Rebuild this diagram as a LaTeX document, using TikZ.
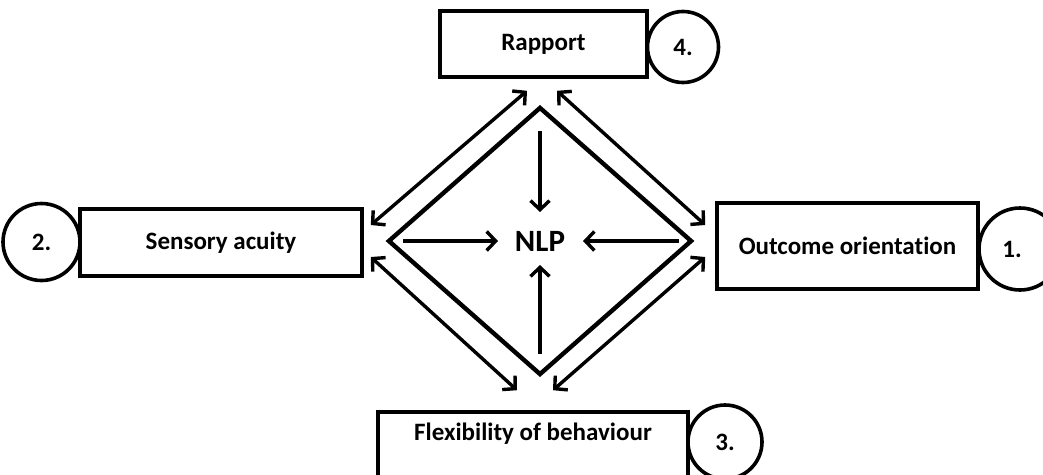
\documentclass[tikz,border=0pt]{standalone}
\usepackage{fontspec}
\setmainfont{Carlito}[Ligatures=NoCommon]
\usetikzlibrary{arrows.meta,shapes.geometric}

\begin{document}
\begin{tikzpicture}[x=1pt,y=-1pt,>={Straight Barb[length=9pt,width=19pt]},
    box/.style={draw,line width=4.4pt,inner sep=0pt,
      font=\bfseries\fontsize{25}{28}\selectfont},
    num/.style={draw,circle,line width=3.6pt,inner sep=0pt,fill=white,
      font=\bfseries\fontsize{25}{28}\selectfont},
    inarrow/.style={->,line width=3.4pt},
    biarrow/.style={<->,line width=3.4pt}]
  \useasboundingbox (0,0) rectangle (1043,474);
  % boxes and their numbers
  \node[box,minimum width=207pt,minimum height=66pt] (rapport) at (543.5,44) {Rapport};
  \node[num,minimum size=71pt] (n4) at (683,47) {4.};
  \node[box,minimum width=282pt,minimum height=67pt] (sensory) at (221,242.5) {Sensory acuity};
  \node[num,minimum size=77pt] (n2) at (41.5,242) {2.};
  \node[box,minimum width=261pt,minimum height=86pt] (outcome) at (847.5,246) {Outcome orientation};
  \node[num,minimum size=82pt] (n1) at (1020,249) {};
  \node[font=\bfseries\fontsize{25}{28}\selectfont] at (1012,249) {1.};
  \node[box,anchor=north,minimum width=310pt,inner ysep=11pt,text depth=60pt] (flex) at (533,410) {Flexibility of behaviour};
  \node[num,minimum size=74pt] (n3) at (725,442) {3.};
  % centre
  \node[draw,diamond,line width=4.4pt,inner sep=0pt,minimum width=304pt,
    minimum height=268pt] (dia) at (540,241) {};
  \node[font=\bfseries\fontsize{31}{35}\selectfont] (nlp) at (540,241) {NLP};
  \draw[inarrow,shorten <=26pt,shorten >=29pt] (dia.north) -- (nlp.center);
  \draw[inarrow,shorten <=23pt,shorten >=24pt] (dia.south) -- (nlp.center);
  \draw[inarrow,shorten <=17pt,shorten >=42pt] (dia.west) -- (nlp.center);
  \draw[inarrow,shorten <=15pt,shorten >=43pt] (dia.east) -- (nlp.center);
  % outer arrows
  \draw[biarrow] ([shift={(-15,-16)}]dia.west) -- ([shift={(-13,-14)}]dia.north);
  \draw[biarrow] ([shift={(17,-14)}]dia.north) -- ([shift={(11,-16)}]dia.east);
  \draw[biarrow] ([shift={(-15,16)}]dia.west) -- ([shift={(-23,13)}]dia.south);
  \draw[biarrow] ([shift={(13,13)}]dia.south) -- ([shift={(11,16)}]dia.east);
\end{tikzpicture}
\end{document}
